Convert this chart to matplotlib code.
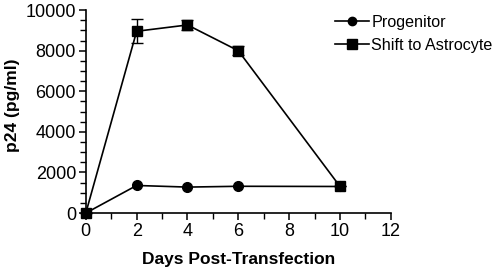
import matplotlib
matplotlib.use("Agg")
from matplotlib import pyplot as plt
from matplotlib.lines import Line2D
from matplotlib.ticker import MultipleLocator

plt.rcParams['font.family'] = ['Liberation Sans', 'DejaVu Sans']

days = [0, 2, 4, 6, 10]
progenitor = [0, 1360, 1280, 1320, 1310]
astrocyte = [0, 8960, 9270, 8000, 1310]
astrocyte_err = [0, 590, 260, 230, 0]

fig = plt.figure(figsize=(4.96, 2.67), dpi=100)
ax = fig.add_axes([0.173, 0.202, 0.615, 0.76])

ax.plot(days, progenitor, color='black', lw=1.2, marker='o', ms=7,
        clip_on=False, zorder=3)
ax.errorbar(days, astrocyte, yerr=astrocyte_err, color='black', lw=1.2,
            marker='s', ms=7.5, capsize=4, elinewidth=1.0, capthick=1.0,
            clip_on=False, zorder=3)

ax.set_xlim(0, 12)
ax.set_ylim(0, 10000)
ax.xaxis.set_major_locator(MultipleLocator(2))
ax.xaxis.set_minor_locator(MultipleLocator(1))
ax.yaxis.set_major_locator(MultipleLocator(2000))
ax.yaxis.set_minor_locator(MultipleLocator(500))

for s in ['top', 'right']:
    ax.spines[s].set_visible(False)
for s in ['left', 'bottom']:
    ax.spines[s].set_linewidth(1.2)

ax.tick_params(which='major', length=5, width=1.1, labelsize=13, pad=2)
ax.tick_params(which='minor', length=4, width=1.0)

ax.set_xlabel('Days Post-Transfection', fontsize=12.5, fontweight='bold', labelpad=9)
ax.set_ylabel('p24 (pg/ml)', fontsize=12.5, fontweight='bold')
ax.yaxis.set_label_coords(-0.215, 0.53)

handles = [
    Line2D([], [], color='black', lw=1.2, marker='o', ms=6),
    Line2D([], [], color='black', lw=1.2, marker='s', ms=6.5),
]
fig.legend(handles, ['Progenitor', 'Shift to Astrocyte'], loc='upper left',
           bbox_to_anchor=(335 / 496, 1 - 15 / 267), frameon=False,
           fontsize=11.6, handlelength=2.1, handletextpad=0.15,
           labelspacing=0.5, borderaxespad=0, borderpad=0)

fig.savefig('out.png', dpi=100)
